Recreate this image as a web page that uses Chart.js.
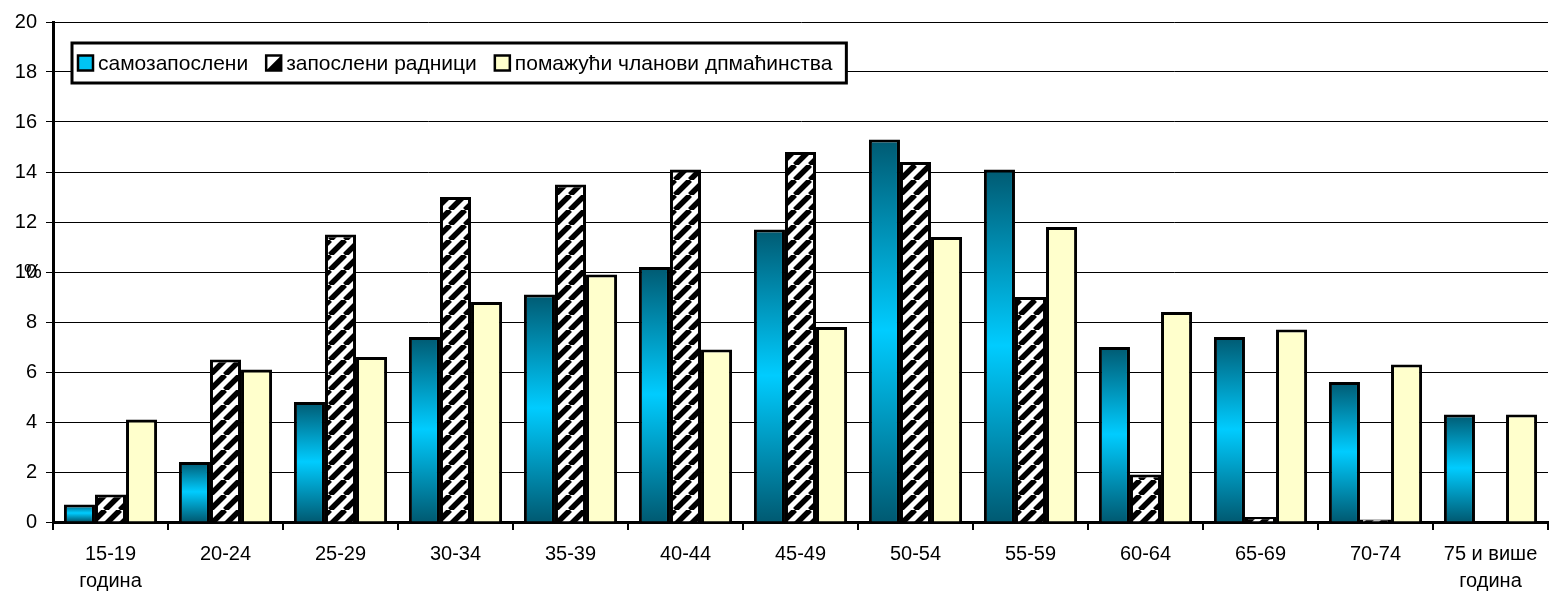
<!DOCTYPE html>
<html>
<head>
<meta charset="utf-8">
<script src="https://cdn.jsdelivr.net/npm/chart.js@4"></script>
<style>
  html, body { margin: 0; padding: 0; background: #fff; }
</style>
</head>
<body>
<canvas id="chart" width="1554" height="593"></canvas>
<script>
/* DATA */
const categories = [["15-19", "година"], "20-24", "25-29", "30-34", "35-39", "40-44",
    "45-49", "50-54", "55-59", "60-64", "65-69", "70-74", ["75 и више", "година"]];
const seriesNames = ["самозапослени", "запослени радници", "помажући чланови дпмаћинства"];
const selfEmployed = [0.7, 2.4, 4.8, 7.4, 9.1, 10.2, 11.7, 15.3, 14.1, 7.0, 7.4, 5.6, 4.3];
const employees = [1.1, 6.5, 11.5, 13.0, 13.5, 14.1, 14.8, 14.4, 9.0, 1.9, 0.2, 0.1, null];
const familyHelpers = [4.1, 6.1, 6.6, 8.8, 9.9, 6.9, 7.8, 11.4, 11.8, 8.4, 7.7, 6.3, 4.3];
const yMin = 0, yMax = 20, yStep = 2;
const yTitle = "%";

const FONT = "'Liberation Sans', Arial, sans-serif";
const FONT_SIZE = 20;
const LEGEND_SIZE = 21;

/* HATCH PATTERN */
function makeHatch(size, lw) {
    const c = document.createElement("canvas");
    c.width = size; c.height = size;
    const g = c.getContext("2d");
    g.fillStyle = "#fff";
    g.fillRect(0, 0, size, size);
    g.strokeStyle = "#000";
    g.lineWidth = lw;
    g.beginPath();
    for (let k = -1; k <= 1; k++) {
        g.moveTo(k * size, size);
        g.lineTo(k * size + size, 0);
    }
    g.stroke();
    return g.createPattern(c, "repeat");
}
const hatch = makeHatch(15, 5.5);

/* per bar gradient for first series */
const barGradient = {
    id: "barGradient",
    beforeDatasetDraw(chart, args) {
        if (args.index !== 0) return;
        const ctx = chart.ctx;
        args.meta.data.forEach(el => {
            const top = Math.min(el.y, el.base), bot = Math.max(el.y, el.base);
            if (bot - top < 1) return;
            const g = ctx.createLinearGradient(0, top, 0, bot);
            g.addColorStop(0, "#005a72");
            g.addColorStop(0.5, "#00ccff");
            g.addColorStop(1, "#005a72");
            el.options = Object.assign({}, el.options, { backgroundColor: g });
        });
    }
};

/* legend box + axis title */
const boxLegend = {
    id: "boxLegend",
    afterDraw(chart) {
        const ctx = chart.ctx;
        const area = chart.chartArea;
        ctx.save();
        ctx.textBaseline = "middle";

        // % title
        ctx.font = `${FONT_SIZE}px ${FONT}`;
        ctx.fillStyle = "#000";
        ctx.textAlign = "center";
        ctx.fillText(yTitle, 33, (area.top + area.bottom) / 2);

        ctx.font = `${LEGEND_SIZE}px ${FONT}`;
        const bx = area.left + 19, by = area.top + 21, bh = 40;
        const sq = 15;
        let x = bx + 6;
        const items = [];
        seriesNames.forEach((name, i) => {
            const w = ctx.measureText(name).width;
            items.push({ x, name, i });
            x += sq + 5 + w + 18;
        });
        const bw = x - 18 + 14 - bx;
        ctx.fillStyle = "#fff";
        ctx.fillRect(bx, by, bw, bh);
        ctx.lineWidth = 3;
        ctx.strokeStyle = "#000";
        ctx.strokeRect(bx, by, bw, bh);

        const cy = by + bh / 2;
        items.forEach(it => {
            const sx = it.x, sy = cy - sq / 2;
            if (it.i === 0) {
                ctx.fillStyle = "#00c4f4";
                ctx.fillRect(sx, sy, sq, sq);
            } else if (it.i === 1) {
                ctx.fillStyle = "#fff";
                ctx.fillRect(sx, sy, sq, sq);
                ctx.fillStyle = "#000";
                ctx.beginPath();
                ctx.moveTo(sx + sq, sy);
                ctx.lineTo(sx + sq, sy + sq);
                ctx.lineTo(sx, sy + sq);
                ctx.closePath();
                ctx.fill();
            } else {
                ctx.fillStyle = "#ffffcc";
                ctx.fillRect(sx, sy, sq, sq);
            }
            ctx.lineWidth = 2.5;
            ctx.strokeStyle = "#000";
            ctx.strokeRect(sx, sy, sq, sq);
            ctx.fillStyle = "#000";
            ctx.textAlign = "left";
            ctx.fillText(it.name, sx + sq + 5, cy + 1);
        });
        ctx.restore();
    }
};

Chart.defaults.font.family = FONT;
Chart.defaults.font.size = FONT_SIZE;
Chart.defaults.color = "#000";

new Chart(document.getElementById("chart"), {
    type: "bar",
    data: {
        labels: categories,
        datasets: [
            { label: seriesNames[0], data: selfEmployed, backgroundColor: "#00ccff",
              borderColor: "#000", borderWidth: 3 },
            { label: seriesNames[1], data: employees, backgroundColor: hatch,
              borderColor: "#000", borderWidth: 3 },
            { label: seriesNames[2], data: familyHelpers, backgroundColor: "#ffffcc",
              borderColor: "#000", borderWidth: 3 }
        ]
    },
    options: {
        responsive: false,
        animation: false,
        layout: { padding: { top: 22, right: 6, left: 0, bottom: 0 } },
        datasets: { bar: { categoryPercentage: 0.81, barPercentage: 1 } },
        plugins: { legend: { display: false }, tooltip: { enabled: false } },
        scales: {
            x: {
                grid: { offset: true, drawOnChartArea: false, drawTicks: true,
                        tickLength: 8, color: "#000", lineWidth: 2 },
                border: { color: "#000", width: 3 },
                ticks: { padding: 11, maxRotation: 0, autoSkip: false,
                         font: { lineHeight: 1.35 } },
                afterFit(s) { s.height = 71; }
            },
            y: {
                min: yMin, max: yMax,
                grid: { color: "#000", lineWidth: 1, tickLength: 7, drawTicks: true },
                border: { color: "#000", width: 3 },
                ticks: { stepSize: yStep, padding: 9 },
                afterFit(s) { s.width = 53; }
            }
        }
    },
    plugins: [barGradient, boxLegend]
});
</script>
</body>
</html>
